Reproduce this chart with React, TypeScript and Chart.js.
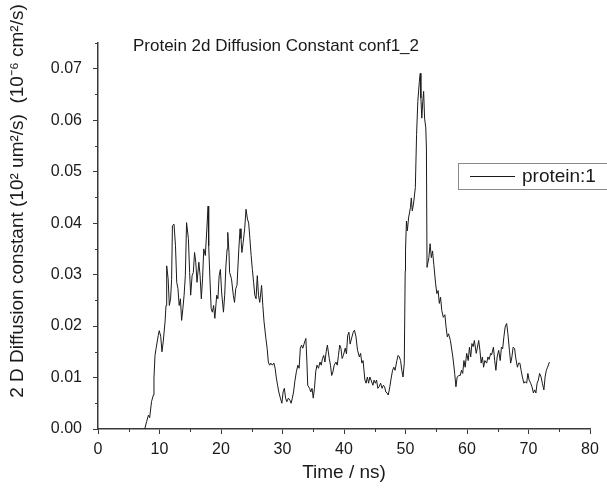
import { useEffect, useRef } from 'react';
import { Chart, registerables } from 'chart.js';

Chart.register(...registerables);

const TITLE = 'Protein 2d Diffusion Constant conf1_2';
const SERIES_LABEL = 'protein:1';
const X_TITLE = 'Time / ns)';
const Y_TITLE = '2 D Diffusion constant (10\u00B2 um\u00B2/s)  (10\u207B\u2076 cm\u00B2/s)';

const times = [
  7.6, 7.9, 8.2, 8.4, 8.7, 9.0, 9.1, 9.27, 9.45, 9.8, 9.96, 10.2, 10.4, 10.6, 10.9, 11.06, 11.17, 11.4, 11.6, 11.8,
  11.97, 12.1, 12.36, 12.6, 12.8, 13.0, 13.2, 13.4, 13.6, 13.8, 14.0, 14.2, 14.4, 14.7, 14.9, 15.07, 15.3, 15.5, 15.7, 15.9,
  16.1, 16.4, 16.6, 16.8, 17.0, 17.2, 17.45, 17.7, 17.9, 18.0, 18.2, 18.4, 18.6, 18.8, 19.0, 19.3, 19.5, 19.7, 19.9, 20.1,
  20.4, 20.6, 20.8, 21.0, 21.1, 21.3, 21.4, 21.7, 22.0, 22.2, 22.4, 22.6, 22.9, 23.1, 23.25, 23.4, 23.6, 23.85, 24.07, 24.3,
  24.5, 24.7, 24.9, 25.1, 25.3, 25.5, 25.7, 25.9, 26.1, 26.3, 26.6, 26.8, 27.0, 27.3, 27.5, 27.7, 27.9, 28.1, 28.35, 28.6,
  28.8, 29.0, 29.2, 29.4, 29.65, 29.9, 30.1, 30.3, 30.5, 30.7, 30.96, 31.2, 31.4, 31.6, 31.8, 32.0, 32.25, 32.5, 32.7, 32.9,
  33.1, 33.3, 33.6, 33.8, 33.97, 34.1, 34.4, 34.6, 34.8, 35.0, 35.2, 35.4, 35.6, 35.85, 36.1, 36.3, 36.5, 36.7, 36.9, 37.1,
  37.3, 37.6, 37.8, 38.0, 38.2, 38.4, 38.7, 38.9, 39.1, 39.3, 39.5, 39.7, 39.9, 40.2, 40.4, 40.6, 40.8, 41.0, 41.2, 41.5,
  41.7, 41.95, 42.2, 42.5, 42.7, 42.9, 43.1, 43.4, 43.6, 43.8, 44.0, 44.2, 44.4, 44.7, 44.9, 45.1, 45.3, 45.5, 45.7, 45.95,
  46.2, 46.4, 46.6, 46.8, 47.0, 47.2, 47.45, 47.7, 47.9, 48.1, 48.3, 48.6, 48.8, 49.0, 49.2, 49.4, 49.6, 49.8, 49.95, 50.0,
  50.15, 50.3, 50.5, 50.8, 50.95, 51.1, 51.3, 51.6, 51.8, 52.0, 52.25, 52.4, 52.5, 52.65, 52.8, 52.95, 53.1, 53.3, 53.4, 53.5,
  53.8, 54.0, 54.2, 54.4, 54.6, 54.9, 55.1, 55.3, 55.5, 55.7, 55.9, 56.15, 56.4, 56.6, 56.8, 57.0, 57.3, 57.7, 58.0, 58.2,
  58.4, 58.7, 58.9, 59.1, 59.3, 59.5, 59.7, 59.95, 60.2, 60.4, 60.6, 60.8, 61.0, 61.2, 61.5, 61.7, 61.9, 62.1, 62.3, 62.5,
  62.7, 62.9, 63.2, 63.4, 63.6, 63.85, 64.0, 64.3, 64.5, 64.7, 64.9, 65.15, 65.4, 65.6, 65.8, 66.0, 66.2, 66.45, 66.65, 66.9,
  67.1, 67.3, 67.5, 67.75, 67.9, 68.2, 68.4, 68.6, 68.8, 69.0, 69.25, 69.45, 69.7, 69.9, 70.1, 70.35, 70.57, 70.8, 71.0, 71.2,
  71.4, 71.6, 71.8, 72.05, 72.25, 72.5, 72.7, 72.9, 73.1, 73.4,
];

const values = [
  0.0, 0.0014, 0.0027, 0.0022, 0.0053, 0.0066, 0.0099, 0.0143, 0.0157, 0.0182, 0.0191, 0.018, 0.015, 0.0169, 0.0208, 0.024, 0.0317, 0.0292, 0.024, 0.0253,
  0.029, 0.0395, 0.0398, 0.0356, 0.0285, 0.0273, 0.024, 0.0253, 0.0211, 0.0234, 0.026, 0.0298, 0.0401, 0.037, 0.0304, 0.026, 0.0298, 0.0304, 0.0343, 0.0324,
  0.0285, 0.0324, 0.0298, 0.0253, 0.0292, 0.035, 0.0337, 0.0389, 0.0433, 0.0356, 0.0292, 0.0234, 0.0227, 0.024, 0.0215, 0.026, 0.0253, 0.0298, 0.031, 0.0266,
  0.0227, 0.026, 0.0317, 0.035, 0.0382, 0.0343, 0.0304, 0.0292, 0.026, 0.0246, 0.0273, 0.0279, 0.035, 0.0389, 0.037, 0.0343, 0.0362, 0.0389, 0.0427, 0.0408,
  0.04, 0.037, 0.0337, 0.031, 0.0285, 0.026, 0.0253, 0.0298, 0.026, 0.0246, 0.0279, 0.024, 0.0208, 0.0176, 0.0157, 0.013, 0.0124, 0.0128, 0.0124, 0.0128,
  0.0118, 0.0099, 0.0085, 0.0072, 0.006, 0.005, 0.0072, 0.0079, 0.006, 0.0053, 0.006, 0.0056, 0.005, 0.006, 0.0072, 0.0092, 0.0111, 0.0124, 0.0118, 0.0157,
  0.0163, 0.0157, 0.0169, 0.0176, 0.013, 0.0085, 0.0079, 0.0072, 0.0079, 0.006, 0.0079, 0.0111, 0.0124, 0.0118, 0.013, 0.0124, 0.0137, 0.0143, 0.013, 0.015,
  0.0163, 0.0137, 0.0124, 0.0104, 0.0111, 0.0124, 0.013, 0.0124, 0.0143, 0.0163, 0.0157, 0.0137, 0.0143, 0.0157, 0.0146, 0.0182, 0.0188, 0.0165, 0.0175, 0.0188,
  0.0192, 0.0179, 0.0153, 0.014, 0.0147, 0.0128, 0.0133, 0.0095, 0.0089, 0.0101, 0.0089, 0.0101, 0.0095, 0.0085, 0.0095, 0.0089, 0.0095, 0.0079, 0.0082, 0.0089,
  0.0079, 0.0085, 0.0082, 0.0072, 0.007, 0.0066, 0.0082, 0.0101, 0.0114, 0.012, 0.0114, 0.0133, 0.0143, 0.014, 0.0133, 0.0114, 0.0101, 0.0128, 0.0307, 0.0346,
  0.0404, 0.0385, 0.041, 0.043, 0.0449, 0.0424, 0.0437, 0.0469, 0.0572, 0.0636, 0.0675, 0.0691, 0.0643, 0.0604, 0.0636, 0.0656, 0.0604, 0.0585, 0.0546, 0.0314,
  0.0333, 0.036, 0.0333, 0.0346, 0.032, 0.0282, 0.0263, 0.0269, 0.0244, 0.0256, 0.023, 0.0217, 0.0222, 0.0198, 0.0179, 0.0185, 0.0172, 0.014, 0.0108, 0.0082,
  0.0101, 0.0104, 0.0104, 0.0114, 0.0108, 0.0133, 0.012, 0.0147, 0.0133, 0.0159, 0.014, 0.0166, 0.016, 0.0172, 0.0147, 0.0159, 0.0172, 0.0153, 0.0128, 0.014,
  0.012, 0.0133, 0.0128, 0.014, 0.0135, 0.0147, 0.0144, 0.0159, 0.0133, 0.0114, 0.014, 0.0153, 0.0133, 0.0159, 0.0156, 0.0179, 0.0198, 0.0205, 0.0185, 0.0153,
  0.0128, 0.014, 0.0159, 0.0156, 0.014, 0.012, 0.0128, 0.0128, 0.0114, 0.0101, 0.0089, 0.0092, 0.0089, 0.0108, 0.0095, 0.0089, 0.0082, 0.007, 0.0076, 0.007,
  0.0089, 0.0095, 0.0108, 0.0101, 0.0089, 0.0076, 0.0101, 0.0114, 0.012, 0.013,
];

const X_MIN = 0;
const X_MAX = 80;
const X_STEP = 10;
const Y_MIN = 0;
const Y_MAX = 0.075;
const Y_STEP = 0.01;

const FONT = "'Liberation Sans', Arial, sans-serif";
const INK = '#1a1a1a';
const AXIS = '#3a3a3a';

export default function App() {
  const ref = useRef<HTMLCanvasElement | null>(null);

  useEffect(() => {
    if (!ref.current) return;

    const overlay = {
      id: 'overlay',
      afterDraw(chart: any) {
        const ctx = chart.ctx as CanvasRenderingContext2D;
        const xs = chart.scales.x;
        const ys = chart.scales.y;
        ctx.save();
        // minor ticks
        ctx.strokeStyle = AXIS;
        ctx.lineWidth = 1;
        ctx.beginPath();
        for (let v = X_MIN + X_STEP / 2; v < X_MAX; v += X_STEP) {
          const px = Math.round(xs.getPixelForValue(v)) + 0.5;
          ctx.moveTo(px, ys.bottom);
          ctx.lineTo(px, ys.bottom + 3);
        }
        for (let k = 0; Y_MIN + Y_STEP / 2 + k * Y_STEP <= Y_MAX + 1e-9; k++) {
          const v = Y_MIN + Y_STEP / 2 + k * Y_STEP;
          const py = Math.round(ys.getPixelForValue(v)) + 0.5;
          ctx.moveTo(xs.left, py);
          ctx.lineTo(xs.left - 3, py);
        }
        ctx.stroke();

        // title
        ctx.fillStyle = INK;
        ctx.font = `17px ${FONT}`;
        ctx.textAlign = 'center';
        ctx.textBaseline = 'middle';
        ctx.fillText(TITLE, 276, 46);

        // y axis title
        ctx.save();
        ctx.translate(18, 201);
        ctx.rotate(-Math.PI / 2);
        ctx.font = `19px ${FONT}`;
        ctx.fillText(Y_TITLE, 0, 0);
        ctx.restore();

        // legend
        ctx.strokeStyle = '#8a8a8a';
        ctx.lineWidth = 1;
        ctx.strokeRect(458.5, 163.5, 150, 26);
        ctx.strokeStyle = INK;
        ctx.beginPath();
        ctx.moveTo(470, 176.5);
        ctx.lineTo(515, 176.5);
        ctx.stroke();
        ctx.textAlign = 'left';
        ctx.font = `19px ${FONT}`;
        ctx.fillText(SERIES_LABEL, 522, 177);
        ctx.restore();
      },
    };

    const chart = new Chart(ref.current, {
      type: 'line',
      data: {
        datasets: [
          {
            label: SERIES_LABEL,
            data: times.map((t, i) => ({ x: t, y: values[i] })),
            borderColor: INK,
            borderWidth: 1,
            pointRadius: 0,
            fill: false,
            tension: 0,
          },
        ],
      },
      options: {
        animation: false,
        responsive: false,
        devicePixelRatio: 1,
        layout: { padding: { left: 0, right: 17, top: 43, bottom: 0 } },
        plugins: {
          legend: { display: false },
          tooltip: { enabled: false },
          title: { display: false },
        },
        scales: {
          x: {
            type: 'linear',
            min: X_MIN,
            max: X_MAX,
            afterFit: (s: any) => {
              s.height = 65;
            },
            ticks: {
              stepSize: X_STEP,
              color: INK,
              font: { family: FONT, size: 16 },
              padding: 6,
              maxRotation: 0,
            },
            grid: { drawOnChartArea: false, drawTicks: true, tickLength: 5, color: AXIS, lineWidth: 1 },
            border: { display: true, color: AXIS, width: 1.5 },
            title: {
              display: true,
              text: X_TITLE,
              color: INK,
              font: { family: FONT, size: 19 },
              padding: { top: 4, bottom: 10 },
            },
          },
          y: {
            type: 'linear',
            min: Y_MIN,
            max: Y_MAX,
            afterFit: (s: any) => {
              s.width = 98;
            },
            ticks: {
              stepSize: Y_STEP,
              includeBounds: false,
              color: INK,
              font: { family: FONT, size: 16 },
              padding: 11,
              callback: (v: any) => Number(v).toFixed(2),
            },
            grid: { drawOnChartArea: false, drawTicks: true, tickLength: 5, color: AXIS, lineWidth: 1 },
            border: { display: true, color: AXIS, width: 1.5 },
          },
        },
      },
      plugins: [overlay],
    } as any);

    return () => chart.destroy();
  }, []);

  return (
    <div style={{ position: 'fixed', left: 0, top: 0, width: 607, height: 494, background: '#fff' }}>
      <canvas ref={ref} width={607} height={494} style={{ display: 'block' }} />
    </div>
  );
}
